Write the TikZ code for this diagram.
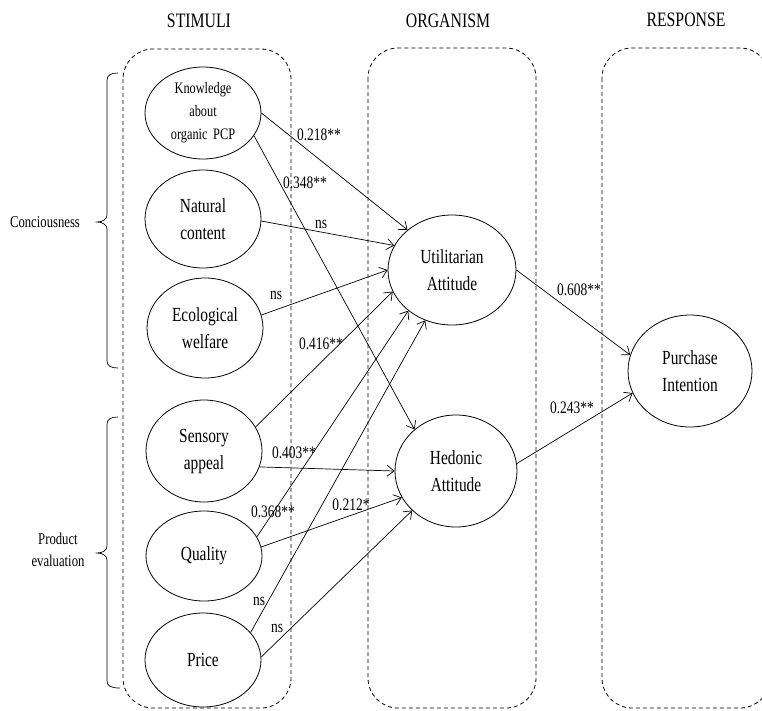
\documentclass[tikz,border=0pt]{standalone}
\usepackage{fontspec}
\setmainfont{Liberation Serif}[FakeStretch=0.77]
\usetikzlibrary{shapes.geometric,arrows.meta}
\begin{document}
\begin{tikzpicture}[x=1pt,y=-1pt,
 box/.style={draw,dash pattern=on 4pt off 3pt,line width=0.8pt,rounded corners=30pt},
 var/.style={draw,ellipse,line width=0.8pt,inner sep=0pt,align=center,font=\fontsize{20}{27}\selectfont},
 lbl/.style={inner sep=0pt,font=\fontsize{17.5}{20}\selectfont},
 ttl/.style={inner sep=0pt,font=\fontsize{20.5}{24}\selectfont},
 side/.style={inner sep=0pt,align=center,font=\fontsize{16.5}{22}\selectfont},
 arr/.style={-{Straight Barb[length=7pt,width=11pt]},line width=0.7pt},
 bracepath/.style={line width=0.7pt}]
\useasboundingbox (0,0) rectangle (762,710);

% dashed groups
\draw[box] (123,49) rectangle (291,708);
\draw[box] (368,48) rectangle (536,708);
\draw[box] (602,48) rectangle (770,708);

% titles
\node[ttl] (t1) at (199,21) {STIMULI};
\node[ttl] (t2) at (448,21) {ORGANISM};
\node[ttl] (t3) at (686,20) {RESPONSE};

% variables
\node[var,minimum width=116pt,minimum height=92pt,font=\fontsize{16}{23}\selectfont] (k) at (203,113) {Knowledge\\about\\organic\hspace{0.35em}PCP};
\node[var,minimum width=116pt,minimum height=98pt] (n) at (203,219) {Natural\\content};
\node[var,minimum width=116pt,minimum height=100pt] (e) at (205,328) {Ecological\\welfare};
\node[var,minimum width=116pt,minimum height=102pt] (s) at (204,451) {Sensory\\appeal};
\node[var,minimum width=116pt,minimum height=90pt] (q) at (204,556) {Quality};
\node[var,minimum width=116pt,minimum height=94pt] (p) at (203,660) {Price};
\node[var,minimum width=128pt,minimum height=110pt] (u) at (452,270) {Utilitarian\\Attitude};
\node[var,minimum width=122pt,minimum height=112pt] (h) at (456,471) {Hedonic\\Attitude};
\node[var,minimum width=124pt,minimum height=112pt] (pi) at (690,371) {Purchase\\Intention};

% paths
\draw[arr] (k.east) -- (u.138);
\draw[arr] (k.-24) -- (h.135);
\draw[arr] (n.-2) -- (u.157);
\draw[arr] (e.13) -- (u.west);
\draw[arr] (s.25) -- (u.200);
\draw[arr] (s.-16) -- (h.west);
\draw[arr] (q.20) -- (u.223);
\draw[arr] (q.9) -- (h.206);
\draw[arr] (p.30) -- (u.242);
\draw[arr] (p.3) -- (h.222);
\draw[arr] (u.east) -- (pi.165);
\draw[arr] (h.7) -- (pi.201);

% coefficients
\node[lbl] (l1) at (319,135) {0.218**};
\node[lbl] (l2) at (305,183) {0.348**};
\node[lbl] (l3) at (321,224) {ns};
\node[lbl] (l4) at (276,295) {ns};
\node[lbl] (l5) at (321,344) {0.416**};
\node[lbl] (l6) at (294,453) {0.403**};
\node[lbl] (l7) at (273,512) {0.368**};
\node[lbl] (l8) at (351,505) {0.212*};
\node[lbl] (l9) at (259,601) {ns};
\node[lbl] (l10) at (277,628) {ns};
\node[lbl] (l11) at (579,290) {0.608**};
\node[lbl] (l12) at (572,408) {0.243**};

% braces and group labels
\draw[bracepath] (118,73) .. controls (111,73) and (107,75) .. (107,80) -- (107,215)
  .. controls (107,219) and (103,222) .. (97,222)
  .. controls (103,222) and (107,225) .. (107,229) -- (107,361)
  .. controls (107,366) and (111,368) .. (118,368);
\draw[bracepath] (118,417) .. controls (111,417) and (107,419) .. (107,424) -- (107,546)
  .. controls (107,550) and (103,553) .. (97,553)
  .. controls (103,553) and (107,556) .. (107,560) -- (107,681)
  .. controls (107,686) and (111,688) .. (120,688);
\node[side] (c1) at (45,222) {Conciousness};
\node[side] (c2) at (58,550) {Product\\evaluation};
\end{tikzpicture}
\end{document}
